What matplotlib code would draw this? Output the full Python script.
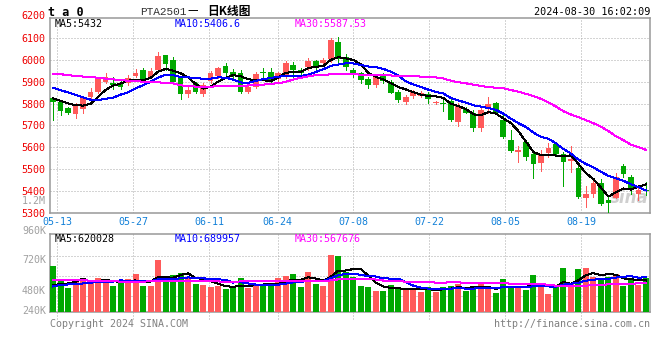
import numpy as np
import matplotlib
matplotlib.use('Agg')
import matplotlib.pyplot as plt

plt.rcParams['font.family'] = ['DejaVu Sans Mono', 'Noto Sans CJK SC']

# ---- data, PTA2501 daily, 2024-05-10 .. 2024-08-30 ----
opens = [5824, 5809, 5780, 5754, 5774, 5832, 5853, 5899, 5896, 5893,
         5893, 5927, 5954, 5924, 5954, 6023, 6000, 5916, 5843, 5893,
         5844, 5905, 5927, 5974, 5946, 5942, 5855, 5875, 5946, 5946,
         5912, 5924, 5977, 5954, 5966, 5995, 5985, 6003, 6084, 6012,
         5954, 5939, 5913, 5885, 5928, 5900, 5855, 5809, 5836, 5836,
         5843, 5801, 5801, 5812, 5717, 5775, 5759, 5690, 5786, 5804,
         5725, 5633, 5580, 5626, 5569, 5529, 5575, 5615, 5569, 5539,
         5506, 5369, 5386, 5435, 5358, 5369, 5514, 5465, 5386, 5405]
highs = [5830, 5817, 5786, 5804, 5835, 5872, 5924, 5942, 5921, 5908,
         5930, 5959, 5965, 5962, 6037, 6023, 6012, 5921, 5878, 5897,
         5896, 5950, 5970, 5985, 5957, 5954, 5885, 5946, 5962, 5962,
         5946, 5997, 5992, 5962, 6008, 6000, 6010, 6100, 6107, 6027,
         5962, 5946, 5920, 5931, 5939, 5908, 5862, 5840, 5862, 5858,
         5852, 5814, 5817, 5820, 5801, 5786, 5771, 5778, 5832, 5809,
         5755, 5679, 5606, 5633, 5572, 5587, 5618, 5618, 5580, 5606,
         5526, 5422, 5450, 5453, 5377, 5480, 5523, 5473, 5419, 5439]
lows = [5725, 5748, 5752, 5735, 5758, 5817, 5849, 5893, 5866, 5866,
        5885, 5924, 5900, 5918, 5950, 5954, 5895, 5823, 5832, 5850,
        5837, 5893, 5918, 5924, 5908, 5850, 5850, 5870, 5924, 5900,
        5900, 5916, 5908, 5924, 5954, 5950, 5975, 5992, 5992, 5954,
        5924, 5893, 5870, 5878, 5893, 5847, 5809, 5800, 5827, 5828,
        5801, 5798, 5768, 5722, 5699, 5755, 5675, 5676, 5755, 5751,
        5641, 5580, 5534, 5542, 5461, 5493, 5557, 5565, 5422, 5488,
        5366, 5328, 5373, 5335, 5297, 5366, 5465, 5386, 5358, 5381]
closes = [5809, 5768, 5758, 5789, 5829, 5853, 5922, 5921, 5887, 5878,
          5916, 5942, 5905, 5950, 6018, 5982, 5901, 5843, 5862, 5855,
          5885, 5942, 5962, 5939, 5927, 5855, 5878, 5936, 5939, 5908,
          5939, 5985, 5954, 5939, 5995, 5972, 6002, 6092, 6003, 5966,
          5936, 5908, 5885, 5921, 5905, 5850, 5817, 5832, 5855, 5850,
          5820, 5809, 5797, 5725, 5789, 5759, 5687, 5771, 5797, 5755,
          5649, 5584, 5587, 5554, 5523, 5568, 5598, 5569, 5534, 5546,
          5370, 5384, 5435, 5340, 5343, 5462, 5475, 5410, 5405, 5400]

ma5 = [5824, 5812, 5801, 5792, 5791, 5799, 5830, 5863, 5882, 5892,
       5905, 5909, 5906, 5918, 5946, 5959, 5951, 5939, 5921, 5889,
       5869, 5877, 5901, 5917, 5931, 5925, 5912, 5907, 5907, 5903,
       5920, 5941, 5945, 5945, 5962, 5969, 5972, 6000, 6013, 6007,
       6000, 5981, 5940, 5923, 5911, 5894, 5876, 5865, 5852, 5841,
       5835, 5833, 5826, 5800, 5788, 5776, 5751, 5746, 5761, 5754,
       5732, 5711, 5674, 5626, 5579, 5563, 5566, 5562, 5558, 5563,
       5523, 5481, 5454, 5415, 5374, 5393, 5411, 5406, 5419, 5430]
ma10 = [5872, 5862, 5851, 5840, 5828, 5818, 5816, 5822, 5827, 5841,
        5852, 5870, 5884, 5900, 5919, 5932, 5930, 5922, 5920, 5917,
        5914, 5914, 5920, 5919, 5910, 5897, 5895, 5904, 5912, 5917,
        5923, 5927, 5926, 5926, 5933, 5945, 5957, 5973, 5979, 5985,
        5984, 5977, 5970, 5968, 5959, 5947, 5928, 5902, 5888, 5876,
        5864, 5854, 5846, 5826, 5814, 5805, 5792, 5786, 5780, 5771,
        5754, 5731, 5710, 5693, 5667, 5648, 5639, 5618, 5592, 5571,
        5543, 5523, 5508, 5487, 5469, 5458, 5446, 5430, 5417, 5402]
ma30 = [5936, 5935, 5930, 5927, 5924, 5921, 5919, 5914, 5911, 5908,
        5905, 5904, 5900, 5898, 5897, 5896, 5893, 5884, 5880, 5878,
        5876, 5877, 5880, 5881, 5882, 5882, 5883, 5885, 5887, 5891,
        5893, 5900, 5910, 5918, 5925, 5930, 5932, 5934, 5935, 5934,
        5934, 5933, 5933, 5932, 5931, 5929, 5927, 5926, 5925, 5924,
        5922, 5920, 5915, 5905, 5898, 5893, 5887, 5881, 5876, 5873,
        5870, 5862, 5855, 5845, 5834, 5822, 5805, 5787, 5765, 5750,
        5738, 5724, 5710, 5694, 5674, 5650, 5632, 5612, 5600, 5588]

# volume in thousands of lots
vol = [908, 609, 475, 649, 649, 575, 675, 629, 509, 563,
       649, 749, 509, 509, 1028, 609, 728, 768, 675, 549,
       529, 495, 515, 449, 463, 675, 475, 549, 529, 529,
       675, 709, 749, 495, 789, 549, 509, 1128, 1108, 794,
       695, 509, 489, 409, 409, 529, 475, 429, 429, 395,
       495, 395, 495, 509, 543, 409, 475, 543, 463, 364,
       649, 463, 515, 429, 728, 495, 349, 495, 874, 543,
       849, 874, 695, 649, 695, 749, 515, 629, 529, 675]
vma5 = [530, 545, 560, 590, 658, 591, 605, 635, 607, 590,
        605, 620, 596, 596, 689, 681, 677, 728, 762, 666,
        650, 603, 553, 507, 490, 519, 515, 522, 538, 551,
        551, 598, 638, 631, 683, 658, 618, 694, 817, 818,
        847, 847, 719, 579, 502, 469, 462, 450, 454, 451,
        445, 429, 442, 458, 487, 470, 486, 496, 487, 451,
        499, 496, 491, 484, 557, 526, 503, 499, 588, 551,
        622, 727, 767, 722, 752, 732, 661, 647, 623, 619]
vma10 = [500, 530, 540, 550, 560, 575, 590, 595, 598, 624,
         598, 612, 616, 602, 640, 643, 648, 662, 679, 677,
         665, 640, 641, 635, 578, 585, 559, 537, 523, 521,
         535, 557, 580, 585, 617, 605, 608, 666, 724, 751,
         753, 733, 707, 698, 660, 658, 655, 585, 517, 477,
         457, 445, 446, 456, 469, 457, 457, 469, 472, 469,
         485, 491, 493, 485, 504, 512, 500, 495, 536, 554,
         574, 615, 633, 655, 652, 677, 694, 707, 673, 686]
vma30 = [630, 629, 628, 626, 622, 616, 610, 605, 601, 598,
         597, 597, 598, 600, 606, 611, 613, 612, 610, 607,
         604, 601, 599, 598, 598, 599, 601, 603, 605, 607,
         600, 603, 612, 607, 612, 611, 605, 622, 642, 650,
         651, 643, 642, 639, 618, 616, 607, 596, 588, 583,
         582, 578, 578, 580, 582, 573, 573, 573, 571, 565,
         565, 556, 549, 546, 544, 543, 537, 516, 508, 500,
         505, 517, 524, 532, 542, 549, 550, 557, 560, 570]

date_idx = [1, 11, 21, 30, 40, 50, 60, 70]
date_labels = ['05-13', '05-27', '06-11', '06-24', '07-08', '07-22', '08-05', '08-19']

RED = '#ff5a5a'
GREEN = '#00a800'
GRID = '#aaaaaa'
FRAME = '#999999'
LW = 0.72  # one pixel at 100 dpi

o = np.array(opens)
h = np.array(highs)
l = np.array(lows)
c = np.array(closes)
x = np.arange(len(c))
colors = np.where(c >= o, RED, GREEN)

W, H = 660, 360
def fx(px):
    return px / W
def fy(py):
    return 1 - py / H

fig = plt.figure(figsize=(6.6, 3.6), dpi=100)
ax = fig.add_axes([fx(50), fy(213.3), 600 / W, 195 / H])
axv = fig.add_axes([fx(50), fy(311.5), 600 / W, 77.2 / H], sharex=ax)

# grid line spots sit near the left edge of each dated candle
tick_pos = np.array(date_idx) * 1.0117 - 0.44

# ---- price panel ----
ax.vlines(x, l, h, colors=colors, lw=LW, antialiased=False, zorder=3)
ax.bar(x, np.maximum(np.abs(c - o), 4), bottom=np.minimum(o, c), width=0.76,
       color=colors, antialiased=False, zorder=3)
ax.plot(x, ma5, color='black', lw=LW, antialiased=False, zorder=4)
ax.plot(x, ma10, color='#0000ff', lw=LW, antialiased=False, zorder=4)
ax.plot(x, ma30, color='#ff00ff', lw=LW, antialiased=False, zorder=4)

ax.set_xlim(-0.4, 79.54)
ax.set_ylim(5297, 6191)
ax.set_yticks(np.arange(5300, 6200, 100))
ax.set_xticks(tick_pos)
ax.set_xticklabels(date_labels)
ax.grid(True, color=GRID, ls=(0, (1, 2)), lw=LW)
ax.set_axisbelow(True)
ax.tick_params(axis='y', length=0, pad=3.5, labelcolor='#ee0000', labelsize=7.2)
ax.tick_params(axis='x', length=0, pad=3, labelcolor='#1280d8', labelsize=7.2)
ax.text(-0.007, 6200, '6200', transform=ax.get_yaxis_transform(), ha='right',
        va='center', color='#ee0000', fontsize=7.2)
ax.text(0.998, 0.03, 'sina', transform=ax.transAxes, ha='right', va='bottom',
        fontsize=12, fontweight='bold', style='italic', color='#cfcfcf',
        family='DejaVu Sans', zorder=2)

# ---- volume panel ----
axv.bar(x, vol, width=0.8, color=colors, antialiased=False, zorder=3)
axv.plot(x, vma5, color='black', lw=LW, antialiased=False, zorder=4)
axv.plot(x, vma10, color='#0000ff', lw=LW, antialiased=False, zorder=4)
axv.plot(x, vma30, color='#ff00ff', lw=LW, antialiased=False, zorder=4)
axv.set_ylim(0, 1541)
axv.set_yticks([315, 715, 1114])
axv.grid(True, axis='y', color=GRID, ls=(0, (1, 2)), lw=LW)
for p in tick_pos:
    axv.axvline(p, ymin=-0.1, ymax=1, clip_on=False, color=GRID, ls=(0, (1, 2)),
                lw=LW, zorder=1)
axv.set_axisbelow(True)
axv.tick_params(labelleft=False, labelbottom=False, length=0)

for a in (ax, axv):
    for s in a.spines.values():
        s.set_color(FRAME)
        s.set_linewidth(1.1)

# ---- texts ----
fig.text(fx(48), fy(12), 't a 0', fontsize=8.5, fontweight='bold', va='center')
fig.text(fx(140), fy(12), 'PTA2501', family=['Liberation Mono'], fontsize=8,
         color='#333333', va='center')
fig.text(fx(187), fy(11), '—', family=['Noto Sans CJK SC'], fontsize=8.5, va='center')
fig.text(fx(207), fy(11), '日K线图', family=['Noto Sans CJK SC'], fontsize=8.5,
         fontweight='bold', va='center')
fig.text(fx(650), fy(12), '2024-08-30 16:02:09', ha='right', va='center', fontsize=7.3)

fig.text(fx(55), fy(24), 'MA5:5432', color='black', fontsize=7.2, va='center')
fig.text(fx(175), fy(24), 'MA10:5406.6', color='#0000ff', fontsize=7.2, va='center')
fig.text(fx(295), fy(24), 'MA30:5587.53', color='#ff00ff', fontsize=7.2, va='center')
fig.text(fx(55), fy(239), 'MA5:620028', color='black', fontsize=7.2, va='center')
fig.text(fx(175), fy(239), 'MA10:689957', color='#0000ff', fontsize=7.2, va='center')
fig.text(fx(295), fy(239), 'MA30:567676', color='#ff00ff', fontsize=7.2, va='center')

for txt, py in [('1.2M', 201), ('960K', 231), ('720K', 260), ('480K', 290.7), ('240K', 311)]:
    fig.text(fx(46), fy(py), txt, ha='right', va='center', color='#a0a0a0', fontsize=7.2)

fig.text(fx(50), fy(324), 'Copyright 2024 SINA.COM', color='#808080', fontsize=7.2, va='center')
fig.text(fx(650), fy(324), 'http://finance.sina.com.cn', color='#808080', fontsize=7.2,
         va='center', ha='right')

fig.savefig('out.png', dpi=100, facecolor='white')
